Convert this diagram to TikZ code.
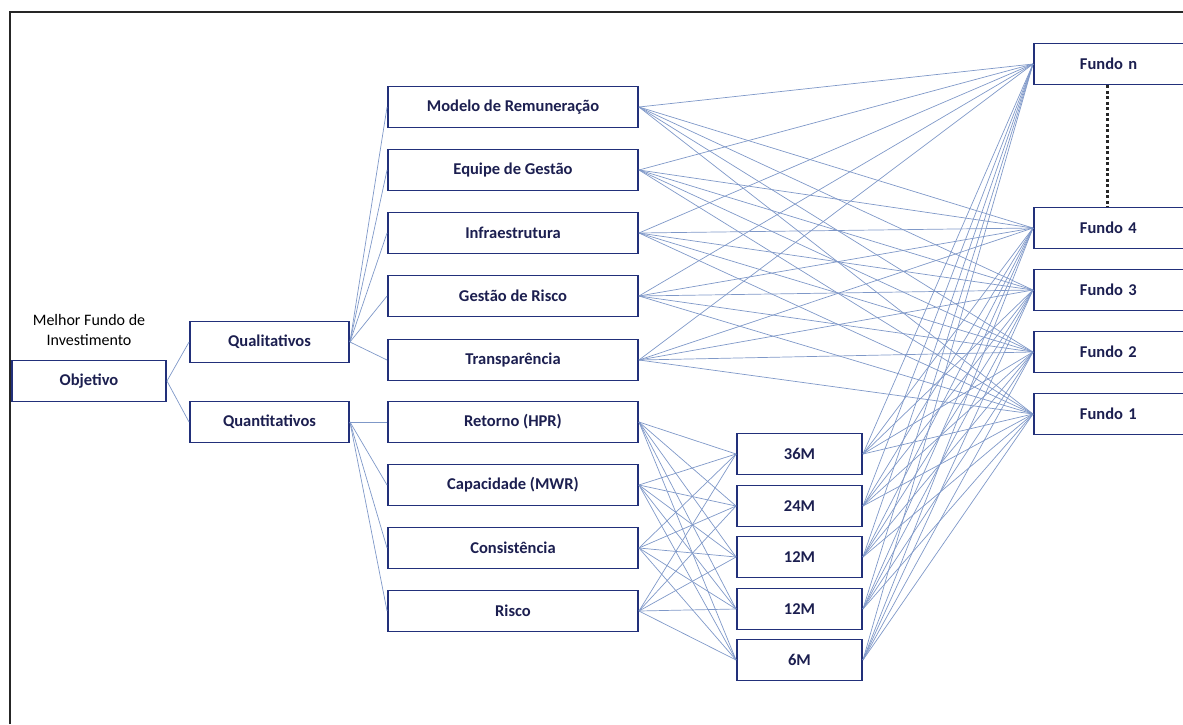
\documentclass[tikz,border=0pt]{standalone}
\usepackage{fontspec}
\setmainfont{Carlito}
\usetikzlibrary{positioning}
\definecolor{boxblue}{HTML}{22307A}
\definecolor{linkblue}{HTML}{7F98C8}
\definecolor{textblue}{HTML}{1C1F50}

\begin{document}
\begin{tikzpicture}[
		x=1pt, y=-1pt,
		box/.style={
			draw=boxblue, line width=1.9pt, fill=white, text=textblue,
			font=\bfseries\fontsize{16.5}{19}\selectfont,
			inner sep=0pt, minimum height=41pt,
		},
		crit/.style={box, minimum width=250pt},
		horiz/.style={box, minimum width=125pt},
		fundo/.style={box, anchor=west, inner xsep=46pt, text width=80pt, align=left},
		link/.style={draw=linkblue, line width=0.7pt},
	]
		\useasboundingbox (0,0) rectangle (1183,724);
		% frame
		\draw[line width=1.5pt, black!85] (10,724) -- (10,12) -- (1183,12);

		\node[box, minimum width=154pt] (obj) at (89,381) {Objetivo};
		\node[font=\fontsize{16}{20}\selectfont, align=center] (melhor) at (89,330) {Melhor Fundo de\\Investimento};
		\node[box, minimum width=159pt] (qual) at (269.5,342) {Qualitativos};
		\node[box, minimum width=159pt] (quant) at (269.5,422) {Quantitativos};

		% criterios
		\foreach \y/\t [count=\i] in {107/Modelo de Remuneração, 170/Equipe de Gestão,
			233/Infraestrutura, 296/Gestão de Risco, 360/Transparência,
			422/Retorno (HPR), 485/Capacidade (MWR), 548/Consistência, 611/Risco}
			\node[crit] (c\i) at (513,\y) {\t};

		% horizontes
		\foreach \y/\t [count=\i] in {454/36M, 506/24M, 557/12M, 609/12M, 660/6M}
			\node[horiz] (h\i) at (799.5,\y) {\t};

		% fundos
		\node[fundo] (fn) at (1033,64) {Fundo n};
		\node[fundo] (f4) at (1033,228) {Fundo 4};
		\node[fundo] (f3) at (1033,290) {Fundo 3};
		\node[fundo] (f2) at (1033,352) {Fundo 2};
		\node[fundo] (f1) at (1033,414) {Fundo 1};
		\draw[line width=3pt, dash pattern=on 3pt off 2.5pt, black!85]
			([xshift=-12pt]fn.south) -- ([xshift=-12pt]f4.north);

		% ligacoes
		\draw[link] (obj.east) -- (qual.west);
		\draw[link] (obj.east) -- (quant.west);
		\foreach \i in {1,...,5}
			\draw[link] (qual.east) -- (c\i.west);
		\foreach \i in {6,...,9}
			\draw[link] (quant.east) -- (c\i.west);
		\foreach \i in {1,...,5}
			\foreach \f in {n,4,3,2,1}
				\draw[link] (c\i.east) -- (f\f.west);
		\foreach \i in {6,...,9}
			\foreach \j in {1,...,5}
				\draw[link] (c\i.east) -- (h\j.west);
		\foreach \j in {1,...,5}
			\foreach \f in {n,4,3,2,1}
				\draw[link] (h\j.east) -- (f\f.west);
	\end{tikzpicture}
\end{document}
